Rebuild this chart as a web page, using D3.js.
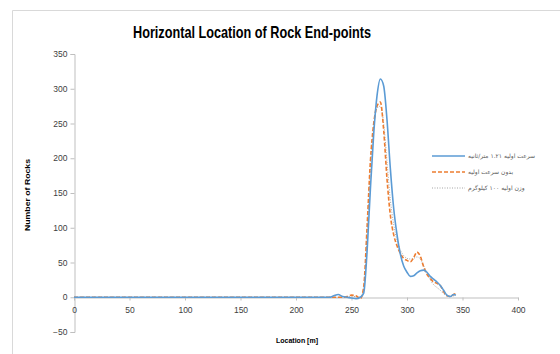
<!DOCTYPE html>
<html>
<head>
<meta charset="utf-8">
<script src="https://cdn.jsdelivr.net/npm/d3@7"></script>
<style>
  body { margin: 0; background: #fff; }
  text { font-family: "Liberation Sans Narrow", "Arial Narrow", "Liberation Sans", sans-serif; }
</style>
</head>
<body>
<svg id="chart" width="560" height="354"></svg>
<script>
// location [m]
const locations = [0, 20, 40, 60, 80, 100, 120, 140, 160, 180, 200, 220, 230, 234, 238, 242, 246, 250, 254, 258,
  261, 264, 267, 270, 273, 276, 279, 282, 285, 288, 291, 294, 297, 300, 303, 306, 309, 312, 315, 318,
  321, 324, 327, 330, 333, 336, 339, 342, 344];

const withSpeed = [0, 0, 0, 0, 0, 0, 0, 0, 0, 0, 0, 0, 0, 2, 4, 1, 0, -1, -2, 0,
  6, 65, 155, 235, 290, 314, 304, 255, 185, 128, 90, 62, 45, 36, 30, 31, 35, 38, 39, 36,
  30, 26, 22, 17, 10, 3, 1, 4, 3];

const noSpeed = [0, 0, 0, 0, 0, 0, 0, 0, 0, 0, 0, 0, 0, 0, 0, 0, 1, 3, 2, -2,
  15, 100, 195, 250, 275, 281, 240, 170, 118, 90, 74, 63, 56, 53, 51, 57, 65, 59, 44, 33,
  27, 22, 20, 17, 8, 2, 1, 4, 5];

const weight100 = [0, 0, 0, 0, 0, 0, 0, 0, 0, 0, 0, 0, 0, 0, 0, 0, 0, 1, 1, 0,
  12, 90, 185, 245, 272, 275, 250, 195, 140, 105, 82, 68, 60, 56, 55, 56, 58, 55, 45, 35,
  25, 18, 14, 10, 5, 2, 1, 2, 3];

const seriesNames = ["سرعت اولیه ۱.۲۱ متر/ثانیه", "بدون سرعت اولیه", "وزن اولیه ۱۰۰ کیلوگرم"];
const xTicks = [0, 50, 100, 150, 200, 250, 300, 350, 400];
const yTicks = [-50, 0, 50, 100, 150, 200, 250, 300, 350];

const series = [
  { name: seriesNames[0], values: withSpeed, color: "#5B9BD5", width: 1.6, dash: null },
  { name: seriesNames[1], values: noSpeed, color: "#ED7D31", width: 1.6, dash: "4,2" },
  { name: seriesNames[2], values: weight100, color: "#A5A5A5", width: 1, dash: "1,1.5" }
];

const svg = d3.select("#chart");

// outer chart border (only top/left visible)
svg.append("line").attr("x1", 12.5).attr("y1", 10.5).attr("x2", 560).attr("y2", 10.5).attr("stroke", "#D9D9D9");
svg.append("line").attr("x1", 12.5).attr("y1", 10.5).attr("x2", 12.5).attr("y2", 354).attr("stroke", "#D9D9D9");

const x = d3.scaleLinear().domain([0, 400]).range([74, 518]);
const y = d3.scaleLinear().domain([-50, 350]).range([332, 54]);

// y axis
const yAxis = svg.append("g")
  .attr("transform", "translate(74.5,0)")
  .call(d3.axisLeft(y).tickValues(yTicks).tickSize(4).tickPadding(3));
yAxis.select(".domain").attr("stroke", "#BFBFBF");
yAxis.selectAll(".tick line").attr("stroke", "#BFBFBF");
yAxis.selectAll(".tick text").attr("fill", "#404040").style("font-size", "8.5px");

// x axis along y = 0
const xAxis = svg.append("g")
  .attr("transform", `translate(0,${Math.round(y(0)) + 0.5})`)
  .call(d3.axisBottom(x).tickValues(xTicks).tickSize(3).tickPadding(6).tickSizeOuter(0));
xAxis.select(".domain").attr("stroke", "#BFBFBF");
xAxis.selectAll(".tick line").attr("stroke", "#BFBFBF");
xAxis.selectAll(".tick text").attr("fill", "#404040").style("font-size", "8.5px");

const line = d3.line()
  .x((d, i) => x(locations[i]))
  .y(d => y(d))
  .curve(d3.curveMonotoneX);

// draw back to front
series.slice().reverse().forEach(s => {
  svg.append("path")
    .attr("d", line(s.values))
    .attr("fill", "none")
    .attr("stroke", s.color)
    .attr("stroke-width", s.width)
    .attr("stroke-dasharray", s.dash);
});

// title
svg.append("text")
  .attr("x", 252).attr("y", 38)
  .attr("text-anchor", "middle")
  .attr("textLength", 238).attr("lengthAdjust", "spacingAndGlyphs")
  .style("font-size", "16.5px").style("font-weight", "bold").attr("fill", "#000")
  .text("Horizontal Location of Rock End-points");

// axis titles
svg.append("text")
  .attr("transform", "translate(30,195) rotate(-90)")
  .attr("text-anchor", "middle")
  .attr("textLength", 72).attr("lengthAdjust", "spacingAndGlyphs")
  .style("font-size", "8px").style("font-weight", "bold").attr("fill", "#000")
  .text("Number of Rocks");

svg.append("text")
  .attr("x", 297).attr("y", 343)
  .attr("text-anchor", "middle")
  .attr("textLength", 42).attr("lengthAdjust", "spacingAndGlyphs")
  .style("font-size", "8px").style("font-weight", "bold").attr("fill", "#000")
  .text("Location [m]");

// legend
const legend = svg.append("g");
series.forEach((s, i) => {
  const ly = 156 + i * 16;
  legend.append("line")
    .attr("x1", 432).attr("x2", 465).attr("y1", ly).attr("y2", ly)
    .attr("stroke", s.color).attr("stroke-width", s.width)
    .attr("stroke-dasharray", s.dash);
  legend.append("text")
    .attr("x", 468).attr("y", ly + 2)
    .attr("direction", "rtl")
    .attr("text-anchor", "end")
    .style("font-family", "'DejaVu Sans', sans-serif")
    .style("font-size", "6px").attr("fill", "#595959")
    .text(s.name);
});
</script>
</body>
</html>
